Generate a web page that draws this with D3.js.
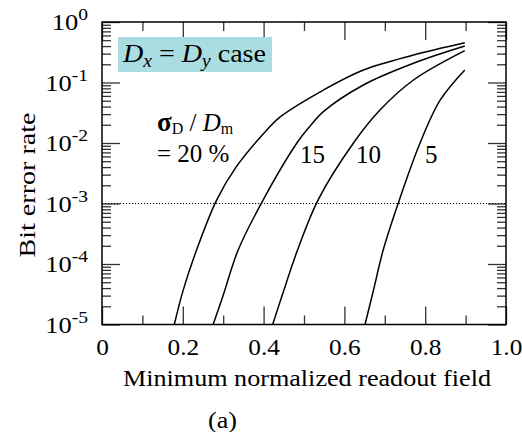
<!DOCTYPE html>
<html>
<head>
<meta charset="utf-8">
<script src="https://cdn.jsdelivr.net/npm/d3@7"></script>
<style>
  body { margin: 0; background: #fff; }
</style>
</head>
<body>
<div id="container"></div>
<script>
// readout field (x) and bit error rate (y)
const sigmaLabels = ['20', '15', '10', '5'];
const field20 = [0.179, 0.201, 0.234, 0.284, 0.333, 0.408, 0.441, 0.548, 0.647, 0.771, 0.898];
const ber20 = [1e-5, 3.7e-5, 1.7e-4, 1.15e-3, 4.1e-3, 1.64e-2, 2.7e-2, 7.5e-2, 0.161, 0.285, 0.455];
const field15 = [0.275, 0.299, 0.337, 0.399, 0.482, 0.515, 0.548, 0.647, 0.771, 0.898];
const ber15 = [1e-5, 2.9e-5, 1.7e-4, 1.15e-3, 9.9e-3, 1.9e-2, 3.3e-2, 9.1e-2, 0.208, 0.40];
const field10 = [0.4225, 0.445, 0.484, 0.535, 0.622, 0.688, 0.771, 0.898];
const ber10 = [1e-5, 2.9e-5, 1.7e-4, 1.15e-3, 9.9e-3, 3.5e-2, 0.11, 0.336];
const field5 = [0.651, 0.672, 0.696, 0.733, 0.787, 0.837, 0.898];
const ber5 = [1e-5, 3.7e-5, 1.7e-4, 1e-3, 9.9e-3, 5.1e-2, 0.161];
const xTicks = [0, 0.2, 0.4, 0.6, 0.8, 1.0];
const xMinor = [0.1, 0.3, 0.5, 0.7, 0.9];
const yExps = [0, -1, -2, -3, -4, -5];
const threshold = 1e-3;

const series = [
  { field: field20, ber: ber20 },
  { field: field15, ber: ber15 },
  { field: field10, ber: ber10 },
  { field: field5, ber: ber5 }
].map(s => s.field.map((f, i) => ({ x: f, y: s.ber[i] })));

const W = 522, H = 432;
const pLeft = 102, pRight = 506, pTop = 22, pBottom = 324.5;
const serif = '"Liberation Serif", "Times New Roman", Times, serif';

const svg = d3.select('#container')
  .append('svg')
  .attr('width', W)
  .attr('height', H)
  .attr('font-family', serif);

// the source font is a bit wider than Times, stretch text to match
const stretch = (sel, k) => sel.each(function () {
  const w = this.getComputedTextLength();
  d3.select(this).attr('textLength', w * k).attr('lengthAdjust', 'spacingAndGlyphs');
});

const x = d3.scaleLinear().domain([0, 1]).range([pLeft, pRight]);
const y = d3.scaleLog().domain([1e-5, 1]).range([pBottom, pTop]);

const yMinor = [];
yExps.slice(1).forEach(e => {
  for (let k = 2; k <= 9; k++) yMinor.push(k * Math.pow(10, e));
});

const tickColor = '#333';
const styleAxis = g => {
  g.attr('font-family', serif);
  g.select('.domain').remove();
  g.selectAll('line').attr('stroke', tickColor).attr('stroke-width', 1.3);
};

// bottom axis with labels
svg.append('g')
  .attr('transform', `translate(0,${pBottom})`)
  .call(d3.axisBottom(x).tickValues(xTicks).tickSize(-18).tickPadding(14)
    .tickFormat(d => d === 0 ? '0' : d3.format('.1f')(d)))
  .call(styleAxis)
  .call(g => g.selectAll('text').attr('font-size', 23).attr('fill', '#000').attr('dy', '0.71em').call(stretch, 1.1));
svg.append('g')
  .attr('transform', `translate(0,${pBottom})`)
  .call(d3.axisBottom(x).tickValues(xMinor).tickSize(-9).tickFormat(''))
  .call(styleAxis);
// top axis
svg.append('g')
  .attr('transform', `translate(0,${pTop})`)
  .call(d3.axisTop(x).tickValues(xTicks).tickSize(-18).tickFormat(''))
  .call(styleAxis);
svg.append('g')
  .attr('transform', `translate(0,${pTop})`)
  .call(d3.axisTop(x).tickValues(xMinor).tickSize(-9).tickFormat(''))
  .call(styleAxis);

// left/right axes
const decades = yExps.map(e => Math.pow(10, e));
svg.append('g')
  .attr('transform', `translate(${pLeft},0)`)
  .call(d3.axisLeft(y).tickValues(decades).tickSize(-18).tickFormat(''))
  .call(styleAxis);
svg.append('g')
  .attr('transform', `translate(${pLeft},0)`)
  .call(d3.axisLeft(y).tickValues(yMinor).tickSize(-9).tickFormat(''))
  .call(styleAxis);
svg.append('g')
  .attr('transform', `translate(${pRight},0)`)
  .call(d3.axisRight(y).tickValues(decades).tickSize(-18).tickFormat(''))
  .call(styleAxis);
svg.append('g')
  .attr('transform', `translate(${pRight},0)`)
  .call(d3.axisRight(y).tickValues(yMinor).tickSize(-9).tickFormat(''))
  .call(styleAxis);

// y tick labels 10^n
const yl = svg.append('g').selectAll('text')
  .data(yExps)
  .join('text')
  .attr('x', 88)
  .attr('y', e => y(Math.pow(10, e)) + 8)
  .attr('text-anchor', 'end')
  .attr('font-size', 23);
yl.append('tspan').text('10');
yl.append('tspan').attr('dy', -10).attr('font-size', 17).text(e => e);
yl.call(stretch, 1.15);

// threshold line
svg.append('line')
  .attr('x1', x(0)).attr('x2', x(1))
  .attr('y1', y(threshold)).attr('y2', y(threshold))
  .attr('stroke', '#000')
  .attr('stroke-width', 1)
  .attr('stroke-dasharray', '1.2,1.8');

// curves
const line = d3.line()
  .x(d => x(d.x))
  .y(d => y(d.y))
  .curve(d3.curveCatmullRom.alpha(0.5));
svg.append('g').selectAll('path')
  .data(series)
  .join('path')
  .attr('d', line)
  .attr('fill', 'none')
  .attr('stroke', '#000')
  .attr('stroke-width', 1.5);

// frame
svg.append('rect')
  .attr('x', pLeft).attr('y', pTop)
  .attr('width', pRight - pLeft).attr('height', pBottom - pTop)
  .attr('fill', 'none')
  .attr('stroke', '#000')
  .attr('stroke-width', 1.5);

// case box
svg.append('rect')
  .attr('x', 118).attr('y', 37)
  .attr('width', 154).attr('height', 35)
  .attr('fill', '#aadde2');
const cb = svg.append('text')
  .attr('x', 123).attr('y', 62)
  .attr('font-size', 26);
cb.append('tspan').attr('font-style', 'italic').text('D');
cb.append('tspan').attr('font-style', 'italic').attr('font-size', 18).attr('dy', 5).text('x');
cb.append('tspan').attr('dy', -5).text(' = ');
cb.append('tspan').attr('font-style', 'italic').text('D');
cb.append('tspan').attr('font-style', 'italic').attr('font-size', 18).attr('dy', 5).text('y');
cb.append('tspan').attr('dy', -5).text(' case');
cb.attr('textLength', 143).attr('lengthAdjust', 'spacingAndGlyphs');

// sigma label
const sl = svg.append('text')
  .attr('x', 157).attr('y', 131)
  .attr('font-size', 25);
sl.append('tspan').attr('font-weight', 'bold').attr('font-size', 27).text('σ');
sl.append('tspan').attr('font-size', 16).attr('dy', 3).text('D');
sl.append('tspan').attr('dy', -3).text(' / ');
sl.append('tspan').attr('font-style', 'italic').text('D');
sl.append('tspan').attr('font-size', 16).attr('dy', 3).text('m');
svg.append('text')
  .attr('x', 157).attr('y', 162)
  .attr('font-size', 25)
  .text('= ' + sigmaLabels[0] + ' %');

// curve labels
const labelX = [null, 300, 356, 425];
sigmaLabels.slice(1).forEach((s, i) => {
  svg.append('text')
    .attr('x', labelX[i + 1]).attr('y', 163)
    .attr('font-size', 25)
    .text(s);
});

// axis titles
svg.append('text')
  .attr('x', 307).attr('y', 386)
  .attr('text-anchor', 'middle')
  .attr('font-size', 23)
  .attr('textLength', 368).attr('lengthAdjust', 'spacingAndGlyphs')
  .text('Minimum normalized readout field');
svg.append('text')
  .attr('x', 222.5).attr('y', 428)
  .attr('text-anchor', 'middle')
  .attr('font-size', 23)
  .attr('textLength', 29).attr('lengthAdjust', 'spacingAndGlyphs')
  .text('(a)');
svg.append('text')
  .attr('transform', `translate(35,185) rotate(-90)`)
  .attr('text-anchor', 'middle')
  .attr('font-size', 23)
  .attr('textLength', 145).attr('lengthAdjust', 'spacingAndGlyphs')
  .text('Bit error rate');
</script>
</body>
</html>
